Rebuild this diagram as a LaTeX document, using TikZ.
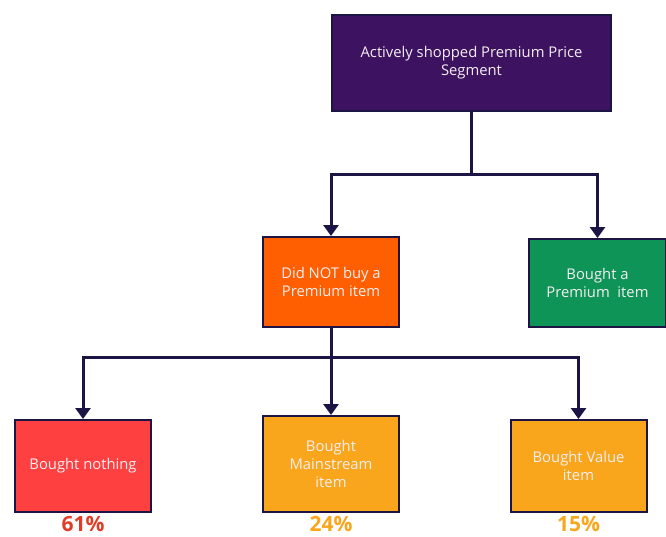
\documentclass[tikz,border=0pt]{standalone}
\usepackage{fontspec}
\setmainfont{Open Sans}
\usepackage{tikz}
\usetikzlibrary{arrows.meta,positioning,calc}
\definecolor{segpurple}{HTML}{3D1260}
\definecolor{edgenavy}{HTML}{1C1444}
\definecolor{notorange}{HTML}{FF5F00}
\definecolor{boughtgreen}{HTML}{0E9457}
\definecolor{nothingred}{HTML}{FF4040}
\definecolor{amber}{HTML}{F9A61C}
\definecolor{pctred}{HTML}{E23B26}
\definecolor{boxtext}{HTML}{F4EEF2}

\begin{document}
\begin{tikzpicture}[x=1pt,y=-1pt,
	box_node/.style={rectangle,draw=edgenavy,line width=2pt,text=boxtext,align=center,font=\fontsize{14.8}{18}\selectfont,inner sep=2pt,minimum width=136pt,minimum height=90pt},
	pct_node/.style={font=\fontsize{21}{23}\selectfont\bfseries,inner sep=0pt},
	link/.style={draw=edgenavy,line width=3pt,-{Triangle[width=15pt,length=11pt]}}]
	\useasboundingbox (0,0) rectangle (666,536);
	\node[box_node,fill=segpurple,minimum width=279pt,minimum height=96pt](top) at (471.5,63){Actively shopped Premium Price\\Segment};
	\node[box_node,fill=notorange](notbuy) at (331,282){Did NOT buy a\\Premium item};
	\node[box_node,fill=boughtgreen,minimum width=137pt,minimum height=88pt](bought) at (597.5,283){Bought a\\Premium\ \ item};
	\node[box_node,fill=nothingred,minimum height=92pt](nothing) at (83,466){Bought nothing};
	\node[box_node,fill=amber,minimum height=96pt](mainstream) at (331,464){Bought\\Mainstream\\item};
	\node[box_node,fill=amber,minimum height=92pt](value) at (578.5,466){Bought Value\\item};
	\node[pct_node,text=pctred](p1) at (83,524){61\%};
	\node[pct_node,text=amber](p2) at (331,524){24\%};
	\node[pct_node,text=amber](p3) at (578.5,524){15\%};
	% connectors
	\coordinate (split1) at (471.5,174);
	\coordinate (split2) at (331,357);
	\draw[link,-] (top.south) -- (split1);
	\draw[link] (split1) -| (notbuy.north);
	\draw[link] (split1) -| (bought.north);
	\draw[link,-] (notbuy.south) -- (split2);
	\draw[link] (split2) -| (nothing.north);
	\draw[link] (split2) -- (mainstream.north);
	\draw[link] (split2) -| (value.north);
\end{tikzpicture}
\end{document}
